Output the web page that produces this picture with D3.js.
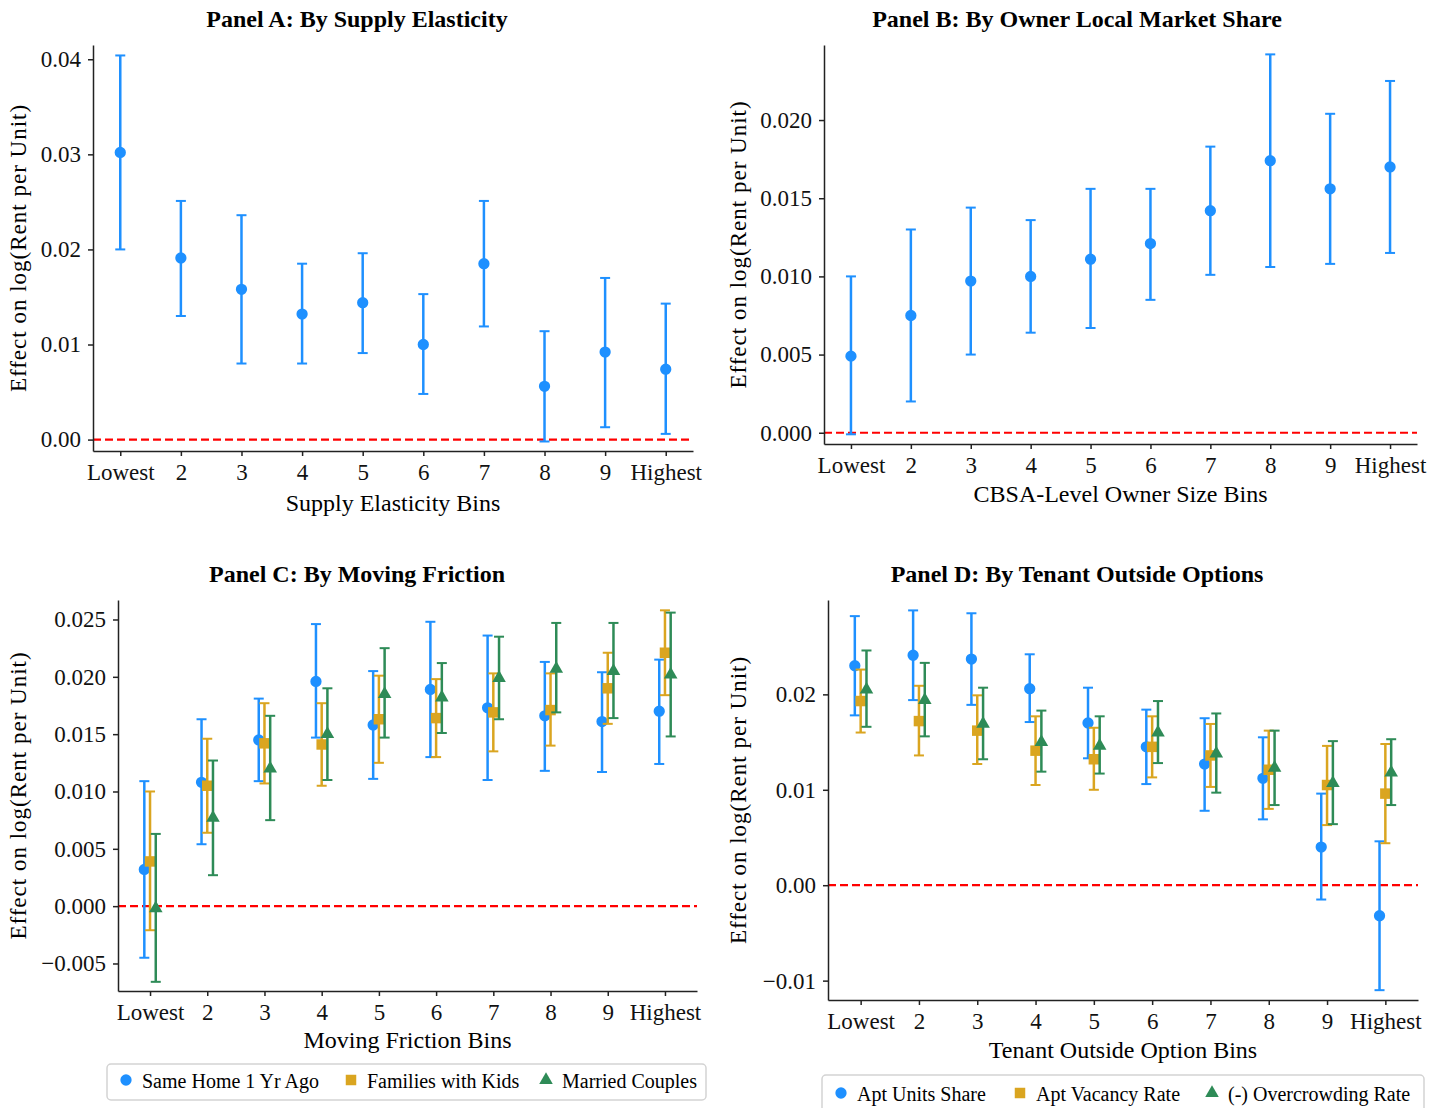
<!DOCTYPE html>
<html>
<head>
<meta charset="utf-8">
<script src="https://cdn.jsdelivr.net/npm/d3@7"></script>
<style>
  body { margin: 0; background: #fff; }
  svg { font-family: "Liberation Serif", "DejaVu Serif", serif; }
</style>
</head>
<body>
<svg id="chart" width="1445" height="1108"></svg>
<script>
// bins shared by all four panels
const bins = ["Lowest", "2", "3", "4", "5", "6", "7", "8", "9", "Highest"];

// Panel A: supply elasticity
const supplyEst = [0.0302, 0.0191, 0.0158, 0.0132, 0.0144, 0.0100, 0.0185, 0.0056, 0.0092, 0.0074];
const supplyLo  = [0.0200, 0.0130, 0.0080, 0.0080, 0.0091, 0.0048, 0.0119, -0.0002, 0.0013, 0.0006];
const supplyHi  = [0.0404, 0.0251, 0.0236, 0.0185, 0.0196, 0.0153, 0.0251, 0.0114, 0.0170, 0.0143];

// Panel B: owner local market share
const ownerEst = [0.0049, 0.0075, 0.0097, 0.0100, 0.0111, 0.0121, 0.0142, 0.0174, 0.0156, 0.0170];
const ownerLo  = [-0.0001, 0.0020, 0.0050, 0.0064, 0.0067, 0.0085, 0.0101, 0.0106, 0.0108, 0.0115];
const ownerHi  = [0.0100, 0.0130, 0.0144, 0.0136, 0.0156, 0.0156, 0.0183, 0.0242, 0.0204, 0.0225];

// Panel C: moving friction
const sameHomeEst = [0.0032, 0.0108, 0.0145, 0.0196, 0.0158, 0.0189, 0.0173, 0.0166, 0.0161, 0.0170];
const sameHomeLo  = [-0.0045, 0.0054, 0.0109, 0.0147, 0.0111, 0.0130, 0.0110, 0.0118, 0.0117, 0.0124];
const sameHomeHi  = [0.0109, 0.0163, 0.0181, 0.0246, 0.0205, 0.0248, 0.0236, 0.0213, 0.0204, 0.0215];
const familiesEst = [0.0039, 0.0105, 0.0142, 0.0141, 0.0163, 0.0164, 0.0169, 0.0171, 0.0190, 0.0221];
const familiesLo  = [-0.0021, 0.0064, 0.0107, 0.0105, 0.0125, 0.0130, 0.0135, 0.0140, 0.0159, 0.0184];
const familiesHi  = [0.0100, 0.0146, 0.0177, 0.0177, 0.0201, 0.0198, 0.0203, 0.0203, 0.0221, 0.0258];
const marriedEst  = [-0.0002, 0.0077, 0.0120, 0.0150, 0.0185, 0.0182, 0.0199, 0.0207, 0.0205, 0.0202];
const marriedLo   = [-0.0066, 0.0027, 0.0075, 0.0110, 0.0147, 0.0151, 0.0163, 0.0169, 0.0164, 0.0148];
const marriedHi   = [0.0063, 0.0127, 0.0166, 0.0190, 0.0225, 0.0212, 0.0235, 0.0247, 0.0247, 0.0256];

// Panel D: tenant outside options
const aptUnitsEst = [0.0230, 0.0241, 0.0237, 0.0206, 0.0170, 0.0145, 0.0127, 0.0112, 0.0040, -0.0032];
const aptUnitsLo  = [0.0178, 0.0194, 0.0189, 0.0171, 0.0133, 0.0106, 0.0078, 0.0069, -0.0015, -0.0110];
const aptUnitsHi  = [0.0282, 0.0288, 0.0285, 0.0242, 0.0207, 0.0184, 0.0175, 0.0155, 0.0096, 0.0046];
const vacancyEst  = [0.0193, 0.0172, 0.0162, 0.0141, 0.0132, 0.0145, 0.0136, 0.0121, 0.0105, 0.0096];
const vacancyLo   = [0.0160, 0.0136, 0.0127, 0.0105, 0.0100, 0.0113, 0.0103, 0.0080, 0.0063, 0.0044];
const vacancyHi   = [0.0226, 0.0209, 0.0199, 0.0177, 0.0165, 0.0177, 0.0169, 0.0162, 0.0146, 0.0148];
const overcrowdEst = [0.0205, 0.0194, 0.0169, 0.0150, 0.0146, 0.0160, 0.0138, 0.0123, 0.0107, 0.0118];
const overcrowdLo  = [0.0166, 0.0156, 0.0132, 0.0119, 0.0117, 0.0128, 0.0097, 0.0084, 0.0064, 0.0084];
const overcrowdHi  = [0.0246, 0.0233, 0.0207, 0.0183, 0.0177, 0.0193, 0.0180, 0.0162, 0.0151, 0.0153];

const blue = "#1E90FF", gold = "#DAA520", green = "#2E8B57";
const yLabel = "Effect on log(Rent per Unit)";

const svg = d3.select("#chart");

const shapes = { circle: d3.symbolCircle, square: d3.symbolSquare, triangle: d3.symbolTriangle };
const sizes = { circle: 100, square: 110, triangle: 80 };

function drawPanel(p) {
  const x = d3.scaleLinear().domain(p.xdom).range([p.left, p.right]);
  const y = d3.scaleLinear().domain(p.ydom).range([p.bottom, p.top]);
  const g = svg.append("g");

  // title
  g.append("text")
    .attr("x", p.titleX).attr("y", p.top - 18)
    .attr("text-anchor", "middle")
    .style("font-size", "24px").style("font-weight", "bold")
    .text(p.title);

  // zero line
  g.append("line")
    .attr("x1", p.left).attr("x2", p.right)
    .attr("y1", y(0)).attr("y2", y(0))
    .attr("stroke", "red").attr("stroke-width", 2.2)
    .attr("stroke-dasharray", "8,4");

  // error bars + markers
  p.series.forEach(s => {
    const sg = g.append("g");
    const cx = i => x(i + s.offset);
    bins.forEach((b, i) => {
      sg.append("line")
        .attr("x1", cx(i)).attr("x2", cx(i))
        .attr("y1", y(s.lo[i])).attr("y2", y(s.hi[i]))
        .attr("stroke", s.color).attr("stroke-width", 2.5);
      [s.lo[i], s.hi[i]].forEach(v => {
        sg.append("line")
          .attr("x1", cx(i) - 5).attr("x2", cx(i) + 5)
          .attr("y1", y(v)).attr("y2", y(v))
          .attr("stroke", s.color).attr("stroke-width", 2);
      });
    });
    sg.selectAll("path.pt")
      .data(s.est)
      .enter().append("path")
        .attr("class", "pt")
        .attr("transform", (d, i) => `translate(${cx(i)},${y(d)})`)
        .attr("d", d3.symbol().type(shapes[s.shape]).size(sizes[s.shape]))
        .attr("fill", s.color);
  });

  // axes
  const xAxis = g.append("g")
    .attr("transform", `translate(0,${p.bottom})`)
    .call(d3.axisBottom(x).tickValues(d3.range(10)).tickFormat(i => bins[i])
      .tickSize(5).tickSizeOuter(0).tickPadding(8));
  const yAxis = g.append("g")
    .attr("transform", `translate(${p.left},0)`)
    .call(d3.axisLeft(y).tickValues(p.yticks).tickFormat(d3.format(p.yfmt))
      .tickSize(5).tickSizeOuter(0).tickPadding(7));
  [xAxis, yAxis].forEach(a => {
    a.select(".domain").attr("stroke", "#222").attr("stroke-width", 1.5);
    a.selectAll(".tick line").attr("stroke", "#222").attr("stroke-width", 1.5);
    a.selectAll(".tick text")
      .attr("fill", "#111")
      .style("font-family", "Liberation Serif, serif")
      .style("font-size", "23px");
  });

  // axis labels
  g.append("text")
    .attr("x", (p.left + p.right) / 2).attr("y", p.xLabelY)
    .attr("text-anchor", "middle")
    .style("font-size", "24px")
    .text(p.xlabel);
  g.append("text")
    .attr("transform", `translate(${p.yLabelX},${(p.top + p.bottom) / 2}) rotate(-90)`)
    .attr("text-anchor", "middle")
    .style("font-size", "23px").style("letter-spacing", "1px")
    .text(yLabel);

  // legend
  if (p.legend) {
    const L = p.legend;
    g.append("rect")
      .attr("x", L.x).attr("y", L.y).attr("width", L.w).attr("height", L.h)
      .attr("rx", 4).attr("fill", "#fff")
      .attr("stroke", "#d3d3d3").attr("stroke-width", 1.5);
    p.series.forEach((s, k) => {
      g.append("path")
        .attr("transform", `translate(${L.items[k]},${L.y + L.h / 2 - 2})`)
        .attr("d", d3.symbol().type(shapes[s.shape]).size(sizes[s.shape]))
        .attr("fill", s.color);
      g.append("text")
        .attr("x", L.items[k] + 16).attr("y", L.y + L.h / 2 + 6)
        .style("font-size", "20px")
        .text(s.name);
    });
  }
}

drawPanel({
  title: "Panel A: By Supply Elasticity", titleX: 357,
  xlabel: "Supply Elasticity Bins",
  left: 93, right: 693, top: 45, bottom: 451,
  xdom: [-0.45, 9.45], ydom: [-0.0012, 0.0415],
  yticks: [0, 0.01, 0.02, 0.03, 0.04], yfmt: ".2f",
  xLabelY: 511, yLabelX: 26,
  series: [{ est: supplyEst, lo: supplyLo, hi: supplyHi, color: blue, shape: "circle", offset: 0 }]
});

drawPanel({
  title: "Panel B: By Owner Local Market Share", titleX: 1077,
  xlabel: "CBSA-Level Owner Size Bins",
  left: 824, right: 1417, top: 45, bottom: 444,
  xdom: [-0.45, 9.45], ydom: [-0.00072, 0.0248],
  yticks: [0, 0.005, 0.01, 0.015, 0.02], yfmt: ".3f",
  xLabelY: 502, yLabelX: 746,
  series: [{ est: ownerEst, lo: ownerLo, hi: ownerHi, color: blue, shape: "circle", offset: 0 }]
});

drawPanel({
  title: "Panel C: By Moving Friction", titleX: 357,
  xlabel: "Moving Friction Bins",
  left: 118, right: 697, top: 600, bottom: 991,
  xdom: [-0.56, 9.56], ydom: [-0.0074, 0.0267],
  yticks: [-0.005, 0, 0.005, 0.01, 0.015, 0.02, 0.025], yfmt: ".3f",
  xLabelY: 1048, yLabelX: 26,
  series: [
    { name: "Same Home 1 Yr Ago", est: sameHomeEst, lo: sameHomeLo, hi: sameHomeHi, color: blue, shape: "circle", offset: -0.1 },
    { name: "Families with Kids", est: familiesEst, lo: familiesLo, hi: familiesHi, color: gold, shape: "square", offset: 0 },
    { name: "Married Couples", est: marriedEst, lo: marriedLo, hi: marriedHi, color: green, shape: "triangle", offset: 0.1 }
  ],
  legend: { x: 107, y: 1064, w: 599, h: 36, items: [126, 351, 546] }
});

drawPanel({
  title: "Panel D: By Tenant Outside Options", titleX: 1077,
  xlabel: "Tenant Outside Option Bins",
  left: 828, right: 1418, top: 600, bottom: 1000,
  xdom: [-0.56, 9.56], ydom: [-0.01203, 0.02989],
  yticks: [-0.01, 0, 0.01, 0.02], yfmt: ".2f",
  xLabelY: 1058, yLabelX: 746,
  series: [
    { name: "Apt Units Share", est: aptUnitsEst, lo: aptUnitsLo, hi: aptUnitsHi, color: blue, shape: "circle", offset: -0.1 },
    { name: "Apt Vacancy Rate", est: vacancyEst, lo: vacancyLo, hi: vacancyHi, color: gold, shape: "square", offset: 0 },
    { name: "(-) Overcrowding Rate", est: overcrowdEst, lo: overcrowdLo, hi: overcrowdHi, color: green, shape: "triangle", offset: 0.1 }
  ],
  legend: { x: 822, y: 1075, w: 602, h: 40, items: [841, 1020, 1212] }
});
</script>
</body>
</html>
